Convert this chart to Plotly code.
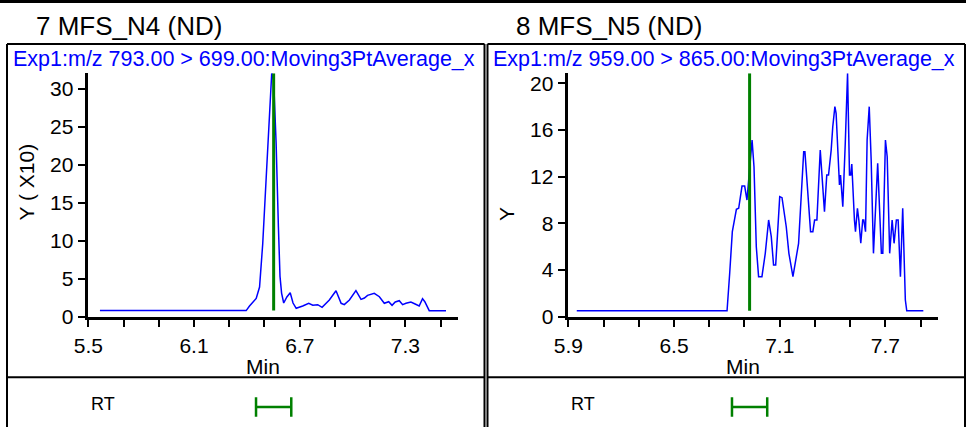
import plotly.graph_objects as go

# chromatogram 7 MFS_N4 (ND)
left_t = [5.566, 6.396, 6.415, 6.453, 6.472, 6.490, 6.510, 6.528, 6.541, 6.552, 6.566, 6.579, 6.588, 6.597,
          6.609, 6.627, 6.646, 6.662, 6.680, 6.717, 6.751, 6.774, 6.802, 6.827, 6.868, 6.906, 6.935, 6.953,
          6.982, 7.019, 7.048, 7.067, 7.085, 7.123, 7.152, 7.180, 7.205, 7.224, 7.242, 7.265, 7.284, 7.303,
          7.331, 7.355, 7.378, 7.397, 7.410, 7.435, 7.530]
left_y = [0.8, 0.8, 1.4, 2.4, 3.9, 9.6, 18.4, 27.2, 32.0, 31.1, 22.8, 11.8, 5.3, 3.1,
          1.8, 2.6, 3.15, 1.8, 1.1, 1.4, 1.76, 1.5, 1.58, 1.23, 2.19, 3.42, 1.76, 1.58,
          2.19, 3.42, 2.28, 2.45, 2.8, 3.07, 2.63, 1.76, 1.97, 1.5, 1.93, 2.1, 1.58, 1.76,
          1.93, 1.67, 1.41, 2.37, 1.97, 0.79, 0.79]

# chromatogram 8 MFS_N5 (ND)
right_t = [5.948, 6.801, 6.816, 6.831, 6.854, 6.867, 6.886, 6.901, 6.914, 6.926, 6.943, 6.954, 6.967, 6.980,
           6.999, 7.018, 7.037, 7.052, 7.065, 7.077, 7.100, 7.113, 7.137, 7.152, 7.175, 7.207, 7.236, 7.243,
           7.260, 7.275, 7.288, 7.298, 7.311, 7.330, 7.354, 7.367, 7.377, 7.392, 7.401, 7.413, 7.420, 7.430,
           7.439, 7.445, 7.451, 7.458, 7.472, 7.485, 7.496, 7.503, 7.509, 7.517, 7.524, 7.530, 7.541, 7.549,
           7.560, 7.571, 7.577, 7.587, 7.596, 7.608, 7.619, 7.632, 7.656, 7.677, 7.685, 7.700, 7.710, 7.724,
           7.738, 7.749, 7.762, 7.772, 7.785, 7.798, 7.813, 7.821, 7.915]
right_y = [0.51, 0.51, 3.72, 7.29, 9.2, 9.29, 11.2, 11.2, 10.0, 12.4, 15.14, 12.85, 6.0, 3.43,
           3.43, 5.43, 8.29, 6.86, 4.43, 4.43, 10.29, 10.2, 7.71, 5.43, 3.43, 6.29, 14.14, 14.14,
           10.29, 7.29, 7.29, 8.29, 8.29, 14.28, 9.0, 12.14, 12.14, 14.28, 16.28, 18.0, 17.43, 14.28,
           11.29, 12.14, 11.14, 9.43, 14.86, 20.86, 12.14, 12.14, 13.09, 9.71, 8.29, 7.29, 9.29, 8.29,
           6.29, 8.29, 8.29, 7.29, 15.14, 18.0, 13.43, 5.43, 13.14, 5.43, 5.43, 15.14, 13.71, 5.43,
           8.29, 6.29, 8.29, 8.29, 3.43, 9.29, 1.43, 0.51, 0.51]

titles = ["7 MFS_N4 (ND)", "8 MFS_N5 (ND)"]
subtitles = ["Exp1:m/z 793.00 > 699.00:Moving3PtAverage_x", "Exp1:m/z 959.00 > 865.00:Moving3PtAverage_x"]
ytitles = ["Y ( X10)", "Y"]
rt = [6.552, 6.929]
rt_window = 0.1
x_ranges = [[5.5, 7.6], [5.9, 8.0]]
x_ticks = [[5.5, 5.7, 5.9, 6.1, 6.3, 6.5, 6.7, 6.9, 7.1, 7.3, 7.5],
           [5.9, 6.1, 6.3, 6.5, 6.7, 6.9, 7.1, 7.3, 7.5, 7.7, 7.9]]
x_labels = [["5.5", "", "", "6.1", "", "", "6.7", "", "", "7.3", ""],
            ["5.9", "", "", "6.5", "", "", "7.1", "", "", "7.7", ""]]
y_ticks = [[0, 5, 10, 15, 20, 25, 30], [0, 4, 8, 12, 16, 20]]

W, H = 966, 427
FONT = "Liberation Sans"
BLUE = "#0000ff"
GREEN = "#008000"


def px(x):
    return x / W


def py(y):
    return 1 - y / H


fig = go.Figure()
series = [(left_t, left_y), (right_t, right_y)]
offsets = [0, 480]

for i, (t, y) in enumerate(series):
    n = i * 2 + 1
    xa = "x" if i == 0 else "x%d" % (i + 1)
    ya = "y" if i == 0 else "y%d" % n
    yb = "y%d" % (n + 1)
    ymax = max(y)
    fig.add_trace(go.Scatter(x=t, y=y, mode="lines", line=dict(color=BLUE, width=1.5),
                             xaxis=xa, yaxis=ya, showlegend=False))
    fig.add_trace(go.Scatter(x=[rt[i], rt[i]], y=[y[0], ymax], mode="lines",
                             line=dict(color=GREEN, width=3), xaxis=xa, yaxis=ya, showlegend=False))
    fig.add_trace(go.Scatter(x=[rt[i] - rt_window, rt[i] + rt_window], y=[0, 0], mode="lines+markers",
                             line=dict(color=GREEN, width=2.5),
                             marker=dict(symbol="line-ns", size=14, line=dict(color=GREEN, width=2.5)),
                             xaxis=xa, yaxis=yb, showlegend=False))

    off = offsets[i]
    x0, x1 = off + 88.3, off + 458.3
    axis_x = dict(domain=[px(x0), px(x1)], range=x_ranges[i], anchor=ya, showline=True, automargin=False,
                  linecolor="black", linewidth=2.5, ticks="outside", ticklen=8, tickwidth=2,
                  tickcolor="black", tickvals=x_ticks[i], ticktext=x_labels[i], showgrid=False,
                  zeroline=False, tickfont=dict(family=FONT, size=21, color="black"))
    axis_y = dict(domain=[py(316.7), py(73.3)], range=[0, ymax], anchor=xa, showline=True, automargin=False,
                  linecolor="black", linewidth=2.5, ticks="outside", ticklen=8, tickwidth=2,
                  tickcolor="black", tickvals=y_ticks[i], showgrid=False, zeroline=False,
                  tickfont=dict(family=FONT, size=21, color="black"))
    axis_b = dict(domain=[0, py(387)], range=[-1, 1], anchor=xa, visible=False, automargin=False)
    fig.layout["xaxis" if i == 0 else "xaxis%d" % (i + 1)] = axis_x
    fig.layout["yaxis" if i == 0 else "yaxis%d" % n] = axis_y
    fig.layout["yaxis%d" % (n + 1)] = axis_b

    # text
    fig.add_annotation(text=titles[i], x=px(off + 34), y=py(26), xref="paper", yref="paper",
                       xanchor="left", yanchor="middle", showarrow=False,
                       font=dict(family=FONT, size=26, color="black"))
    fig.add_annotation(text=subtitles[i], x=px(off + 11), y=py(59), xref="paper", yref="paper",
                       xanchor="left", yanchor="middle", showarrow=False,
                       font=dict(family=FONT, size=21.5, color=BLUE))
    fig.add_annotation(text=ytitles[i], x=px(off + 26), y=py(223), xref="paper", yref="paper",
                       xanchor="center", yanchor="bottom", textangle=-90, showarrow=False,
                       font=dict(family=FONT, size=21, color="black"))
    fig.add_annotation(text="Min", x=px(off + 262.5), y=py(366), xref="paper", yref="paper",
                       xanchor="center", yanchor="middle", showarrow=False,
                       font=dict(family=FONT, size=21, color="black"))
    fig.add_annotation(text="RT", x=px(off + 103), y=py(404), xref="paper", yref="paper",
                       xanchor="center", yanchor="middle", showarrow=False,
                       font=dict(family=FONT, size=18, color="black"))

# frames
lines = [
    (0, 1.5, W, 1.5, 3),
    (7, 44, 484.5, 44, 2), (7, 44, 7, H, 2), (484.5, 44, 484.5, H, 2), (7, 377.3, 484.5, 377.3, 2),
    (487.5, 44, 965, 44, 2), (487.5, 44, 487.5, H, 2), (965, 44, 965, H, 2), (487.5, 377.3, 965, 377.3, 2),
]
for xa0, ya0, xa1, ya1, w in lines:
    fig.add_shape(type="line", xref="paper", yref="paper", x0=px(xa0), y0=py(ya0), x1=px(xa1), y1=py(ya1),
                  line=dict(color="black", width=w))

fig.update_layout(template="none", width=W, height=H, autosize=False, margin=dict(l=0, r=0, t=0, b=0),
                  paper_bgcolor="white", plot_bgcolor="white", showlegend=False)

fig.write_html("out.html", post_script="document.body.style.margin='0';", config={"displayModeBar": False})
